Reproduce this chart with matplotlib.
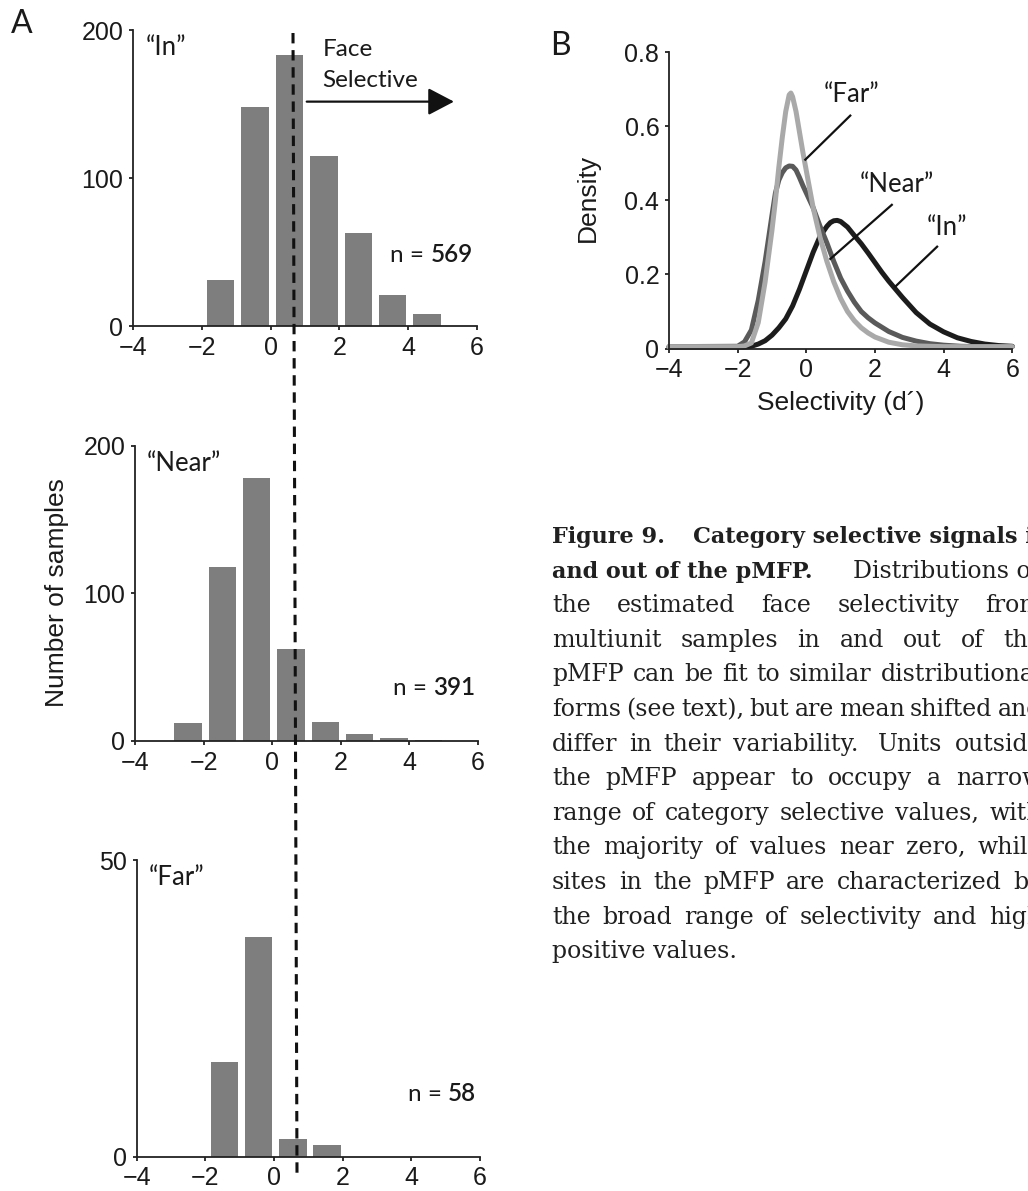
import matplotlib
matplotlib.use('Agg')
import matplotlib.pyplot as plt
from matplotlib.lines import Line2D
from matplotlib.font_manager import FontProperties

plt.rcParams['font.family'] = ['Liberation Sans', 'DejaVu Sans']

# ---------------- data ----------------
x_ticks = [-4, -2, 0, 2, 4, 6]

in_centers = [-1.45, -0.45, 0.55, 1.55, 2.55, 3.55, 4.55]
in_counts = [31, 148, 183, 115, 63, 21, 8]
near_centers = [-2.45, -1.45, -0.45, 0.55, 1.55, 2.55, 3.55, 4.55]
near_counts = [12, 118, 178, 62, 13, 5, 2, 1]
far_centers = [-1.45, -0.45, 0.55, 1.55]
far_counts = [16, 37, 3, 2]
hist_names = ['\u201cIn\u201d', '\u201cNear\u201d', '\u201cFar\u201d']
n_values = ['569', '391', '58']
hist_ymax = [200, 200, 50]
hist_yticks = [[0, 100, 200], [0, 100, 200], [0, 50]]
threshold = 0.65

far_x = [-4.0, -2.0, -1.8, -1.6, -1.4, -1.2, -1.0, -0.9, -0.8, -0.7, -0.6, -0.5, -0.45, -0.4,
         -0.3, -0.2, -0.1, 0.0, 0.2, 0.4, 0.6, 0.8, 1.0, 1.2, 1.4, 1.6, 1.8, 2.0, 2.4, 2.8,
         3.2, 4.0, 6.0]
far_y = [0.005, 0.005, 0.007, 0.015, 0.07, 0.18, 0.32, 0.40, 0.49, 0.57, 0.64, 0.685, 0.69,
         0.68, 0.64, 0.585, 0.53, 0.48, 0.38, 0.30, 0.235, 0.18, 0.135, 0.10, 0.075, 0.056,
         0.042, 0.031, 0.017, 0.010, 0.007, 0.005, 0.005]

near_x = [-4.0, -2.0, -1.8, -1.6, -1.4, -1.2, -1.0, -0.9, -0.8, -0.7, -0.6, -0.5, -0.4,
          -0.3, -0.2, -0.1, 0.0, 0.2, 0.4, 0.6, 0.8, 1.0, 1.2, 1.4, 1.6, 1.8, 2.0, 2.4,
          2.8, 3.2, 3.6, 4.0, 4.5, 5.0, 6.0]
near_y = [0.005, 0.006, 0.018, 0.05, 0.13, 0.235, 0.36, 0.42, 0.455, 0.475, 0.488, 0.493,
          0.492, 0.482, 0.462, 0.44, 0.42, 0.38, 0.33, 0.285, 0.235, 0.19, 0.155, 0.125,
          0.10, 0.083, 0.069, 0.046, 0.030, 0.020, 0.013, 0.009, 0.006, 0.005, 0.005]

in_x = [-4.0, -1.8, -1.6, -1.4, -1.2, -1.0, -0.8, -0.6, -0.4, -0.2, 0.0, 0.2, 0.4, 0.6,
        0.7, 0.8, 0.9, 1.0, 1.2, 1.4, 1.6, 1.8, 2.0, 2.2, 2.4, 2.8, 3.2, 3.6, 4.0, 4.4,
        4.8, 5.2, 5.6, 6.0]
in_y = [0.004, 0.004, 0.006, 0.012, 0.021, 0.036, 0.056, 0.08, 0.115, 0.16, 0.21, 0.26,
        0.303, 0.33, 0.34, 0.345, 0.346, 0.343, 0.328, 0.305, 0.283, 0.258, 0.232, 0.206,
        0.182, 0.138, 0.097, 0.066, 0.045, 0.029, 0.019, 0.012, 0.008, 0.006]
dens_yticks = [0, 0.2, 0.4, 0.6, 0.8]
dens_yticklabels = ['0', '0.2', '0.4', '0.6', '0.8']

caption_lines = [
    "the estimated face selectivity from",
    "multiunit samples in and out of the",
    "pMFP can be fit to similar distributional",
    "forms (see text), but are mean shifted and",
    "differ in their variability.  Units outside",
    "the pMFP appear to occupy a narrow",
    "range of category selective values, with",
    "the majority of values near zero, while",
    "sites in the pMFP are characterized by",
    "the broad range of selectivity and high",
]
caption_last = "positive values."

# ---------------- layout helpers ----------------
W, H, DPI = 1028, 1191, 100
fig = plt.figure(figsize=(W / DPI, H / DPI), dpi=DPI)


def rect(l, t, r, b):
    return [l / W, 1 - b / H, (r - l) / W, (b - t) / H]


def fx(x):
    return x / W


def fy(y):
    return 1 - y / H


LABEL_FONT = ['Lato', 'DejaVu Sans']
TXT = '#1a1a1a'
TICK_FS = 18


def style(ax):
    for s in ['top', 'right']:
        ax.spines[s].set_visible(False)
    for s in ['left', 'bottom']:
        ax.spines[s].set_linewidth(1.3)
        ax.spines[s].set_color('#222222')
    ax.tick_params(direction='out', length=3, width=1.3, labelsize=TICK_FS,
                   colors='#222222')
    ax.tick_params(axis='x', pad=4)
    ax.tick_params(axis='y', pad=4)
    for lab in ax.get_xticklabels() + ax.get_yticklabels():
        lab.set_color(TXT)


# ---------------- panel A histograms ----------------
hist_rects = [rect(133, 30, 477, 326), rect(135, 445.7, 478, 741), rect(136.7, 860, 480, 1156.7)]
hist_data = [(in_centers, in_counts), (near_centers, near_counts), (far_centers, far_counts)]
name_pos = [(145.7, 55), (146.7, 470.7), (149, 885)]
n_pos = [(473, 261.7), (475, 695), (476, 1100.7)]

hist_axes = []
for i in range(3):
    ax = fig.add_axes(hist_rects[i])
    c, v = hist_data[i]
    ax.bar(c, v, width=0.8, color='#7e7e7e', linewidth=0)
    ax.set_xlim(-4, 6)
    ax.set_ylim(0, hist_ymax[i])
    ax.set_xticks(x_ticks)
    ax.set_yticks(hist_yticks[i])
    style(ax)
    hist_axes.append(ax)
    fig.text(fx(name_pos[i][0]), fy(name_pos[i][1]), hist_names[i], family=LABEL_FONT,
             fontsize=18.5, ha='left', va='baseline', color=TXT)

renderer = fig.canvas.get_renderer()


def twidth(s, fp):
    w, h, d = renderer.get_text_width_height_descent(s, fp, ismath=False)
    return w


N_FS = 17.5
num_fp = FontProperties(family=LABEL_FONT, size=N_FS, weight='semibold')
for i in range(3):
    xr, yb = n_pos[i]
    fig.text(fx(xr), fy(yb), n_values[i], fontproperties=num_fp,
             ha='right', va='baseline', color=TXT)
    wn = twidth(n_values[i], num_fp)
    fig.text(fx(xr - wn), fy(yb), 'n = ', family=LABEL_FONT, fontsize=N_FS,
             ha='right', va='baseline', color=TXT)

# Face selective label + arrow
fig.text(fx(322.7), fy(56.5), 'Face', family=LABEL_FONT, fontsize=17.5,
         ha='left', va='baseline', color=TXT)
fig.text(fx(322.7), fy(86.7), 'Selective', family=LABEL_FONT, fontsize=17.5,
         ha='left', va='baseline', color=TXT)
hist_axes[0].annotate('', xy=(5.33, 151.6), xytext=(1.05, 151.6),
                      arrowprops=dict(arrowstyle='-|>,head_length=0.8,head_width=0.42',
                                      mutation_scale=20, lw=1.6, color='#111111',
                                      shrinkA=0, shrinkB=0), annotation_clip=False)

# threshold dashed line spanning the three histograms
fig.add_artist(Line2D([fx(293), fx(297)], [fy(33), fy(1173)], color='#111111', lw=2.2,
                      dashes=(3.4, 2.2), zorder=10))

fig.text(fx(57), fy(593), 'Number of samples', rotation=90, fontsize=19,
         ha='center', va='center', color=TXT)
fig.text(fx(22), fy(33), 'A', family=LABEL_FONT, fontsize=23, ha='center',
         va='baseline', color=TXT)

# ---------------- panel B densities ----------------
axb = fig.add_axes(rect(669, 52.3, 1012.3, 348.5))
axb.plot(in_x, in_y, color='#1c1c1c', lw=3.6, clip_on=False, solid_capstyle='round')
axb.plot(near_x, near_y, color='#5a5a5a', lw=3.6, clip_on=False, solid_capstyle='round')
axb.plot(far_x, far_y, color='#a9a9a9', lw=3.6, clip_on=False, solid_capstyle='round')
axb.set_xlim(-4, 6)
axb.set_ylim(0, 0.8)
axb.set_xticks(x_ticks)
axb.set_yticks(dens_yticks)
axb.set_yticklabels(dens_yticklabels)
style(axb)

for txt, tx, ty, lx0, ly0, lx1, ly1 in [
        ('\u201cFar\u201d', 1.33, 0.667, 1.28, 0.629, -0.03, 0.51),
        ('\u201cNear\u201d', 2.64, 0.423, 2.49, 0.388, 0.70, 0.242),
        ('\u201cIn\u201d', 4.1, 0.306, 3.81, 0.275, 2.59, 0.167)]:
    axb.text(tx, ty, txt, family=LABEL_FONT, fontsize=18.5, ha='center', va='baseline',
             color=TXT)
    axb.plot([lx0, lx1], [ly0, ly1], color='#111111', lw=1.6)

fig.text(fx(588), fy(198), 'Density', rotation=90, fontsize=19, ha='center',
         va='center', color=TXT)
fig.text(fx(841), fy(410), 'Selectivity (d\u00b4)', fontsize=19, ha='center',
         va='baseline', color=TXT)
fig.text(fx(550), fy(55), 'B', family=LABEL_FONT, fontsize=23, ha='left',
         va='baseline', color=TXT)

# ---------------- caption ----------------
SERIF = ['DejaVu Serif']
fp10 = FontProperties(family=SERIF, size=10)
cap_fs = 10 * 185.0 / twidth(caption_last, fp10)
fp = FontProperties(family=SERIF, size=cap_fs)
fpb10 = FontProperties(family=SERIF, size=10, weight='bold')
capb_fs = 10 * 327.0 / twidth('Category selective signals', fpb10)
fpb = FontProperties(family=SERIF, size=capb_fs, weight='bold')
L, R = 552.0, 1042.0
base0, step = 543.0, 34.6
CAPC = '#202020'

fig.text(fx(L), fy(base0), 'Figure 9.', fontproperties=fpb, ha='left', va='baseline',
         color=CAPC)
fig.text(fx(693), fy(base0), 'Category selective signals in', fontproperties=fpb,
         ha='left', va='baseline', color=CAPC)
fig.text(fx(L), fy(base0 + step), 'and out of the pMFP.', fontproperties=fpb,
         ha='left', va='baseline', color=CAPC)
fig.text(fx(853), fy(base0 + step), 'Distributions of',
         fontproperties=fp, ha='left', va='baseline', color=CAPC)

for k, line in enumerate(caption_lines):
    yb = base0 + (k + 2) * step
    words = line.split()
    ws = [twidth(w, fp) for w in words]
    weights = [1.7 if w.endswith('.') else 1.0 for w in words[:-1]]
    gap = (R - L - sum(ws)) / sum(weights)
    x = L
    for j, (w, wd) in enumerate(zip(words, ws)):
        fig.text(fx(x), fy(yb), w, fontproperties=fp, ha='left', va='baseline',
                 color=CAPC)
        if j < len(weights):
            x += wd + gap * weights[j]

fig.text(fx(L), fy(base0 + 12 * step), caption_last, fontproperties=fp, ha='left',
         va='baseline', color=CAPC)

fig.savefig('out.png', dpi=DPI)
